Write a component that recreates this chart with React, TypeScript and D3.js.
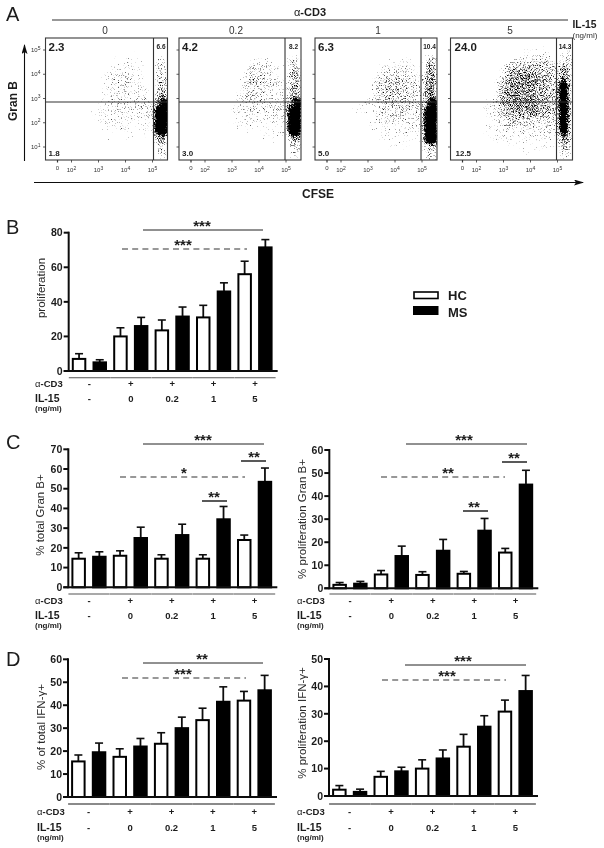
import React from "react";
import * as d3 from "d3";

const FONT = "'Liberation Sans', Arial, sans-serif";
const INK = "#1c1c1c";

/* ---------- Panel A: gated percentages and hand-read density of each plot ---------- */
const doseLabels = ["0", "0.2", "1", "5"];
const upperLeft = ["2.3", "4.2", "6.3", "24.0"];
const upperRight = ["6.6", "8.2", "10.4", "14.3"];
const lowerLeft = ["1.8", "3.0", "5.0", "12.5"];
const logExponents = [2, 3, 4, 5];
const logExponentsY = [1, 2, 3, 4, 5];

const density0 = [
  "00000000000000000000",
  "00000000000000100000",
  "00000000000112110033",
  "00000000001222211044",
  "00000000012333221055",
  "00000000012333222055",
  "00000000012333222066",
  "00000000123333333389",
  "00000001122232233399",
  "00000000112222222299",
  "00000000011121112199",
  "00000000001001101077",
  "00000000000000000044",
  "00000000000000000033",
];
const density1 = [
  "00000000000000000000",
  "00000000000000000000",
  "00000000000122210144",
  "00000000000343322055",
  "00000000002344322166",
  "00000000002444332166",
  "00000000012444332266",
  "00000000123344333389",
  "00000000122333333399",
  "00000000112232222399",
  "00000000011111112299",
  "00000000000101111088",
  "00000000000010000044",
  "00000000000000000033",
];
const density2 = [
  "00000000000000000000",
  "00000000000000000000",
  "00000000000011110055",
  "00000000001333322066",
  "00000000013444433277",
  "00000000024555443277",
  "00000000024555443377",
  "00000001233444444389",
  "00000011123444433399",
  "00000000112333333399",
  "00000000011222222299",
  "00000000001111111199",
  "00000000000011100155",
  "00000000000000000044",
];
const density3 = [
  "00000000000000000000",
  "00000000000011111022",
  "00000000012334443144",
  "00000000356666555475",
  "00000001467777665485",
  "00000002577777665495",
  "00000002677777665595",
  "00000124677777665696",
  "00000123566777655596",
  "00000012345544444496",
  "00000112333333333395",
  "00000011222222222285",
  "00000001111111121164",
  "00000000000110100043",
];
const densities = [density0, density1, density2, density3];

/* ---------- Bar data ---------- */
const groups = ["-", "0", "0.2", "1", "5"];
const cd3Signs = ["-", "+", "+", "+", "+"];

const propHC = [7, 20, 23.5, 31, 56];
const propHCTop = [10, 25, 29.5, 38, 63.5];
const propMS = [5, 26, 31.5, 46, 71.5];
const propMSTop = [6.5, 31, 37, 51, 76];
const propTicks = [0, 20, 40, 60, 80];

const granTotalHC = [14.5, 16, 14.5, 14.5, 24];
const granTotalHCTop = [17.5, 18.5, 16.5, 16.5, 26.5];
const granTotalMS = [15.5, 25, 26.5, 34.5, 53.5];
const granTotalMSTop = [18, 30.5, 32, 41, 60.5];
const granTotalTicks = [0, 10, 20, 30, 40, 50, 60, 70];

const granPropHC = [1.5, 6, 5.8, 6.3, 15.5];
const granPropHCTop = [2.5, 7.7, 7.2, 7.3, 17.3];
const granPropMS = [2, 14, 16.3, 25, 45];
const granPropMSTop = [3, 18.3, 21.2, 30.3, 51.2];
const granPropTicks = [0, 10, 20, 30, 40, 50, 60];

const ifnTotalHC = [15.5, 17.5, 23.2, 33.5, 42];
const ifnTotalHCTop = [18.3, 21, 28, 38.7, 46];
const ifnTotalMS = [19.5, 22, 30, 41.5, 46.5];
const ifnTotalMSTop = [23.5, 25.5, 34.8, 48, 53];
const ifnTotalTicks = [0, 10, 20, 30, 40, 50, 60];

const ifnPropHC = [2.3, 7, 10, 18, 30.8];
const ifnPropHCTop = [3.8, 9, 13.2, 22.5, 35];
const ifnPropMS = [1.5, 9, 13.7, 25.3, 38.3];
const ifnPropMSTop = [2.5, 10.5, 16.8, 29.3, 44];
const ifnPropTicks = [0, 10, 20, 30, 40, 50];

type Sig = { x1: number; x2: number; y: number; stars: string; sx: number; dashed?: boolean };

function FlowPanel({ i, x0 }: { i: number; x0: number }) {
  const size = 122;
  const top = 38;
  const grid = densities[i];
  const col = d3.scaleBand<number>().domain(d3.range(20)).range([0, size]);
  const row = d3.scaleBand<number>().domain(d3.range(14)).range([0, size]);
  const op = d3.scaleLinear().domain([0, 1, 5, 8, 9]).range([0, 0.15, 0.33, 0.47, 1]);
  const xLog = d3.scaleLinear().domain([2, 5]).range([26, 107]);
  const yLog = d3.scaleLinear().domain([1, 5]).range([109, 12]);
  const gate = i === 0 ? 108 : 106;
  return (
    <g transform={`translate(${x0},${top})`}>
      <clipPath id={`clip${i}`}>
        <rect width={size} height={size} />
      </clipPath>
      <g clipPath={`url(#clip${i})`}>
        <g filter={`url(#speckle${i})`}>
          {grid.map((r, ri) =>
            r.split("").map((c, ci) =>
              c === "0" ? null : (
                <rect
                  key={`${ri}-${ci}`}
                  x={col(ci)}
                  y={row(ri)}
                  width={col.bandwidth() + 0.2}
                  height={row.bandwidth() + 0.2}
                  fill="#000"
                  opacity={op(+c) as number}
                />
              )
            )
          )}
        </g>
      </g>
      <rect width={size} height={size} fill="none" stroke="#3a3a3a" strokeWidth={1.1} />
      <line x1={gate} x2={gate} y1={0} y2={size} stroke="#333" strokeWidth={1.1} />
      <line x1={0} x2={size} y1={64} y2={64} stroke="#333" strokeWidth={1.1} />
      {logExponents.map((e) => (
        <line key={e} x1={xLog(e)} x2={xLog(e)} y1={size} y2={size + 2.5} stroke="#333" strokeWidth={0.8} />
      ))}
      <line x1={12} x2={12} y1={size} y2={size + 2.5} stroke="#333" strokeWidth={1.2} />
      {logExponentsY.map((e) => (
        <line key={e} x1={-2.5} x2={0} y1={yLog(e)} y2={yLog(e)} stroke="#333" strokeWidth={0.8} />
      ))}
      <text x={12} y={size + 10} fontSize={6} textAnchor="middle" fill="#333" fontFamily={FONT}>0</text>
      {logExponents.map((e) => (
        <text key={e} x={xLog(e)} y={size + 12} fontSize={6} textAnchor="middle" fill="#333" fontFamily={FONT}>
          10<tspan dy={-2.5} fontSize={5}>{e}</tspan>
        </text>
      ))}
      {i === 0 &&
        logExponentsY.map((e) => (
          <text key={e} x={-5} y={yLog(e) + 2} fontSize={6} textAnchor="end" fill="#333" fontFamily={FONT}>
            10<tspan dy={-2.5} fontSize={5}>{e}</tspan>
          </text>
        ))}
      <text x={i === 3 ? 4 : 3} y={12.5} fontSize={11.5} fontWeight="bold" fill={INK} fontFamily={FONT}>
        {upperLeft[i]}
      </text>
      <text x={gate + (size - gate) / 2 + 0.5} y={11} fontSize={6.5} fontWeight="bold" fill={INK} textAnchor="middle" fontFamily={FONT}>
        {upperRight[i]}
      </text>
      <text x={i === 3 ? 5 : 3} y={118} fontSize={8} fontWeight="bold" fill={INK} fontFamily={FONT}>
        {lowerLeft[i]}
      </text>
    </g>
  );
}

type BarProps = {
  axisX: number;
  yTop: number;
  yZero: number;
  maxV: number;
  ticks: number[];
  hc: number[];
  hcTop: number[];
  ms: number[];
  msTop: number[];
  title: string;
  titleX: number;
  titleY: number;
  sigs: Sig[];
  rowY: number[];
  labelX: number;
  underColor: string;
};

function BarChart(p: BarProps) {
  const w = 207;
  const x = d3
    .scaleBand<number>()
    .domain(d3.range(10))
    .range([p.axisX, p.axisX + w])
    .paddingInner(0.3)
    .paddingOuter(0.15);
  const y = d3.scaleLinear().domain([0, p.maxV]).range([p.yZero, p.yTop]);
  const bw = x.bandwidth();
  const segs = groups.map((_, g) => {
    const a = x(g * 2)!;
    const b = x(g * 2 + 1)! + bw;
    return { a: a - 3, b: b + 3, c: (a + b) / 2 };
  });
  const bars = groups.flatMap((_, g) => [
    { idx: g * 2, v: p.hc[g], t: p.hcTop[g], fill: "#fff" },
    { idx: g * 2 + 1, v: p.ms[g], t: p.msTop[g], fill: "#000" },
  ]);
  return (
    <g fontFamily={FONT}>
      {bars.map((b) => {
        const bx = x(b.idx)!;
        const cx = bx + bw / 2;
        return (
          <g key={b.idx}>
            <line x1={cx} x2={cx} y1={y(b.v)} y2={y(b.t)} stroke="#111" strokeWidth={1.8} />
            <line x1={cx - 4} x2={cx + 4} y1={y(b.t)} y2={y(b.t)} stroke="#111" strokeWidth={1.6} />
            <rect
              x={bx + 1}
              y={y(b.v)}
              width={bw - 2}
              height={p.yZero - y(b.v)}
              fill={b.fill}
              stroke="#000"
              strokeWidth={2}
            />
          </g>
        );
      })}
      <line x1={p.axisX} x2={p.axisX} y1={p.yTop - 1} y2={p.yZero + 1} stroke="#111" strokeWidth={2} />
      <line x1={p.axisX - 5} x2={p.axisX + w + 2} y1={p.yZero} y2={p.yZero} stroke="#111" strokeWidth={2} />
      {p.ticks.map((t) => (
        <g key={t}>
          <line x1={p.axisX - 5} x2={p.axisX} y1={y(t)} y2={y(t)} stroke="#111" strokeWidth={2} />
          <text x={p.axisX - 6} y={y(t) + 3.7} fontSize={10.5} fontWeight="bold" textAnchor="end" fill={INK}>
            {t}
          </text>
        </g>
      ))}
      <text
        transform={`translate(${p.titleX},${p.titleY}) rotate(-90)`}
        fontSize={11.5}
        textAnchor="middle"
        fill="#2a2a2a"
      >
        {p.title}
      </text>
      {segs.map((s, g) => (
        <g key={g}>
          <line x1={s.a} x2={s.b} y1={p.rowY[0]} y2={p.rowY[0]} stroke={p.underColor} strokeWidth={1.1} />
          <text x={s.c} y={p.rowY[1]} fontSize={9.5} fontWeight="bold" textAnchor="middle" fill={INK}>
            {cd3Signs[g]}
          </text>
          <text x={s.c} y={p.rowY[2]} fontSize={9.5} fontWeight="bold" textAnchor="middle" fill={INK}>
            {groups[g]}
          </text>
        </g>
      ))}
      <text x={p.labelX} y={p.rowY[1]} fontSize={9.5} fontWeight="bold" fill={INK}>
        <tspan fontWeight="normal">α</tspan>-CD3
      </text>
      <text x={p.labelX} y={p.rowY[2]} fontSize={10.5} fontWeight="bold" fill={INK}>
        IL-15
      </text>
      <text x={p.labelX} y={p.rowY[2] + 9} fontSize={8} fontWeight="bold" fill={INK}>
        (ng/ml)
      </text>
      {p.sigs.map((s, i) => (
        <g key={i}>
          <line
            x1={s.x1}
            x2={s.x2}
            y1={s.y}
            y2={s.y}
            stroke={s.dashed ? "#333" : "#222"}
            strokeWidth={s.dashed ? 1.1 : s.x2 - s.x1 < 40 ? 1.5 : 1}
            strokeDasharray={s.dashed ? "6 4.2" : undefined}
          />
          <text x={s.sx} y={s.y + 1} fontSize={15} fontWeight="bold" textAnchor="middle" fill={INK}>
            {s.stars}
          </text>
        </g>
      ))}
    </g>
  );
}

export default function App() {
  const xs = [45.5, 179, 315, 450.5];
  const labelCx = [105, 236, 378, 510];
  return (
    <svg
      width={604}
      height={848}
      viewBox="0 0 604 848"
      style={{ position: "absolute", left: 0, top: 0, background: "#fff" }}
    >
      <defs>
        <filter id="soft" x="0" y="0" width="100%" height="100%">
          <feGaussianBlur stdDeviation={0.4} />
        </filter>
        {[3, 11, 23, 37].map((seed, i) => (
          <filter
            key={seed}
            id={`speckle${i}`}
            x="0"
            y="0"
            width="100%"
            height="100%"
            filterUnits="objectBoundingBox"
            colorInterpolationFilters="sRGB"
          >
            <feGaussianBlur in="SourceAlpha" stdDeviation={2.2} result="blur" />
            <feTurbulence type="fractalNoise" baseFrequency={1.3} numOctaves={1} seed={seed} result="noise" />
            <feColorMatrix in="noise" type="matrix" values="0 0 0 0 0  0 0 0 0 0  0 0 0 0 0  1.6 0 0 0 -0.3" result="noiseA" />
            <feComposite in="blur" in2="noiseA" operator="arithmetic" k1={0} k2={1.5} k3={1} k4={-1} result="mix" />
            <feComponentTransfer in="mix" result="hard">
              <feFuncA type="linear" slope={2.4} intercept={0} />
            </feComponentTransfer>
            <feColorMatrix in="hard" type="matrix" values="0 0 0 0 0  0 0 0 0 0  0 0 0 0 0  0 0 0 1 0" />
          </filter>
        ))}
        <marker id="arrow" viewBox="0 0 10 6" refX={9} refY={3} markerWidth={13} markerHeight={6} markerUnits="userSpaceOnUse" orient="auto">
          <path d="M0,0 L10,3 L0,6 L2,3 Z" fill="#111" />
        </marker>
      </defs>
      <g filter="url(#soft)" fontFamily={FONT}>
        <text x={6} y={21} fontSize={20} fill={INK}>A</text>
        <text x={6} y={234} fontSize={20} fill={INK}>B</text>
        <text x={6} y={449} fontSize={20} fill={INK}>C</text>
        <text x={6} y={666} fontSize={20} fill={INK}>D</text>

        <text x={310} y={15.5} fontSize={11} fontWeight="bold" textAnchor="middle" fill={INK}>
          <tspan fontWeight="normal">α</tspan>-CD3
        </text>
        <line x1={52} x2={568} y1={20} y2={20} stroke="#333" strokeWidth={1.2} />
        {doseLabels.map((d, i) => (
          <text key={d} x={labelCx[i]} y={34} fontSize={10} textAnchor="middle" fill="#333">
            {d}
          </text>
        ))}
        <text x={572.5} y={28} fontSize={10.3} fontWeight="bold" fill={INK}>IL-15</text>
        <text x={572.5} y={38} fontSize={8} fill="#333">(ng/ml)</text>

        {xs.map((x0, i) => (
          <FlowPanel key={i} i={i} x0={x0} />
        ))}

        <line x1={24.5} x2={24.5} y1={161} y2={45} stroke="#111" strokeWidth={1.1} markerEnd="url(#arrow)" />
        <text transform="translate(17,101) rotate(-90)" fontSize={12} fontWeight="bold" textAnchor="middle" fill={INK}>
          Gran B
        </text>
        <line x1={34} x2={583} y1={182.5} y2={182.5} stroke="#111" strokeWidth={1.1} markerEnd="url(#arrow)" />
        <text x={318} y={198} fontSize={12} fontWeight="bold" textAnchor="middle" fill={INK}>
          CFSE
        </text>

        <rect x={414} y={292} width={24} height={6.5} fill="#fff" stroke="#000" strokeWidth={1.6} />
        <rect x={413} y={306} width={25.5} height={9} fill="#000" />
        <text x={448} y={299.5} fontSize={13} fontWeight="bold" fill={INK}>HC</text>
        <text x={448} y={316.5} fontSize={13} fontWeight="bold" fill={INK}>MS</text>

        <BarChart
          axisX={68.7} yTop={232.7} yZero={371} maxV={80} ticks={propTicks}
          hc={propHC} hcTop={propHCTop} ms={propMS} msTop={propMSTop}
          title="proliferation" titleX={45} titleY={288}
          rowY={[377.7, 386.5, 401.5]} labelX={35} underColor="#555"
          sigs={[
            { x1: 143, x2: 263, y: 230, stars: "***", sx: 202 },
            { x1: 122, x2: 247, y: 249, stars: "***", sx: 183, dashed: true },
          ]}
        />
        <BarChart
          axisX={68.3} yTop={449.3} yZero={587.3} maxV={70} ticks={granTotalTicks}
          hc={granTotalHC} hcTop={granTotalHCTop} ms={granTotalMS} msTop={granTotalMSTop}
          title="% total Gran B+" titleX={44} titleY={515}
          rowY={[594, 604, 619]} labelX={35} underColor="#555"
          sigs={[
            { x1: 143, x2: 264, y: 444, stars: "***", sx: 203 },
            { x1: 120, x2: 245, y: 477, stars: "*", sx: 184, dashed: true },
            { x1: 202, x2: 227, y: 501, stars: "**", sx: 214 },
            { x1: 241, x2: 266, y: 461, stars: "**", sx: 254 },
          ]}
        />
        <BarChart
          axisX={329.3} yTop={450} yZero={588.3} maxV={60} ticks={granPropTicks}
          hc={granPropHC} hcTop={granPropHCTop} ms={granPropMS} msTop={granPropMSTop}
          title="% proliferation Gran B+" titleX={306} titleY={519}
          rowY={[594, 604, 619]} labelX={297} underColor="#555"
          sigs={[
            { x1: 406, x2: 527, y: 444, stars: "***", sx: 464 },
            { x1: 381, x2: 505, y: 477, stars: "**", sx: 448, dashed: true },
            { x1: 463, x2: 488, y: 511, stars: "**", sx: 474 },
            { x1: 502, x2: 527, y: 462, stars: "**", sx: 514 },
          ]}
        />
        <BarChart
          axisX={68} yTop={659.3} yZero={797} maxV={60} ticks={ifnTotalTicks}
          hc={ifnTotalHC} hcTop={ifnTotalHCTop} ms={ifnTotalMS} msTop={ifnTotalMSTop}
          title="% of total IFN-γ+" titleX={45} titleY={727}
          rowY={[804, 815, 830.5]} labelX={37} underColor="#111"
          sigs={[
            { x1: 143, x2: 263, y: 663, stars: "**", sx: 202 },
            { x1: 122, x2: 246, y: 678, stars: "***", sx: 183, dashed: true },
          ]}
        />
        <BarChart
          axisX={329} yTop={659} yZero={796} maxV={50} ticks={ifnPropTicks}
          hc={ifnPropHC} hcTop={ifnPropHCTop} ms={ifnPropMS} msTop={ifnPropMSTop}
          title="% proliferation IFN-γ+" titleX={306} titleY={723}
          rowY={[804, 815, 830.5]} labelX={297} underColor="#111"
          sigs={[
            { x1: 405, x2: 526, y: 665, stars: "***", sx: 463 },
            { x1: 382, x2: 506, y: 680, stars: "***", sx: 447, dashed: true },
          ]}
        />
      </g>
    </svg>
  );
}
